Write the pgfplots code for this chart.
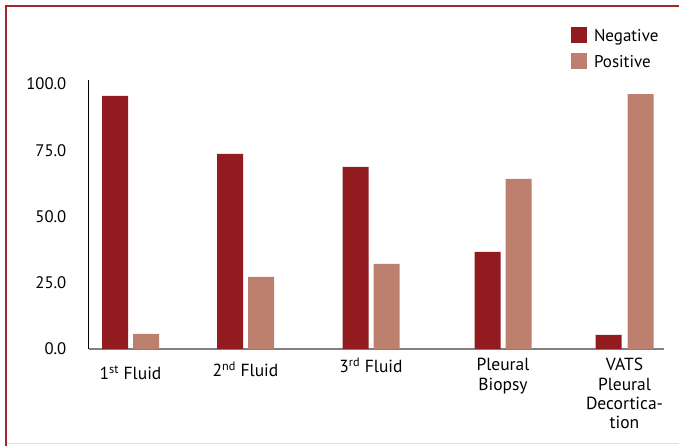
\documentclass[border=0pt]{standalone}
\usepackage{pgfplots}
\pgfplotsset{compat=1.18}
\usepackage{fontspec}
\setmainfont{PT Sans}
\definecolor{negc}{HTML}{921B20}
\definecolor{posc}{HTML}{BE806E}
\definecolor{framec}{HTML}{A3262A}
\newcommand{\ml}[1]{\begin{tabular}[t]{@{}c@{}}#1\end{tabular}}
\begin{document}
\begin{tikzpicture}[x=1pt,y=1pt]
\useasboundingbox (0,0) rectangle (679,446);
\draw[framec, line width=2.2pt] (6,0) -- (6,440) -- (679,440);
\draw[black!12, line width=1pt] (7,2) -- (679,2);
\begin{axis}[
  at={(88.5pt,97pt)}, anchor=south west,
  scale only axis, width=575.5pt, height=269pt,
  xmin=88.5, xmax=664, ymin=0, ymax=101.5,
  axis x line*=bottom, axis y line*=left,
  x axis line style={draw=black!50, line width=1.4pt, -},
  y axis line style={draw=black, line width=0.8pt, -},
  major tick length=0pt,
  ytick={0,25,50,75,100},
  /pgf/number format/assume math mode=true,
  yticklabel style={/pgf/number format/fixed, /pgf/number format/fixed zerofill, /pgf/number format/precision=1, font=\fontsize{16.7}{20}\selectfont, inner sep=0pt, xshift=-22pt},
  xtick={130.5,245.5,371,503,624.5},
  xticklabels={{\raisebox{-9pt}{1\textsuperscript{st} Fluid}},{\raisebox{-6pt}{2\textsuperscript{nd} Fluid}},{\raisebox{-2pt}{3\textsuperscript{rd} Fluid}},{\ml{Pleural\\Biopsy}},{\ml{VATS\\Pleural\\Decortica-\\tion}}},
  xticklabel style={anchor=base, font=\fontsize{17.5}{19.3}\selectfont, inner sep=0pt, yshift=-22pt},
  ybar, bar width=26pt, bar shift=0pt,
  legend style={at={(0.8384,1.197)}, anchor=north west, draw=none, fill=none, inner sep=0pt, outer sep=0pt, font=\fontsize{17}{19}\selectfont, row sep=6pt},
  legend cell align=left,
]
\addplot[fill=negc, draw=none, legend image code/.code={\fill[negc] (0pt,-6.7pt) rectangle (16pt,9.3pt); \path (21pt,-10.7pt);}] coordinates {(115,95.5) (230,73.6) (355.5,68.7) (487.5,36.6) (608.5,5.3)};
\addplot[fill=posc, draw=none, legend image code/.code={\fill[posc] (0pt,-6.7pt) rectangle (16pt,9.3pt); \path (21pt,-10.7pt);}] coordinates {(146,5.7) (261,27.2) (386.5,32.1) (518.5,64.2) (640.5,96.2)};
\legend{Negative,Positive}
\end{axis}
\end{tikzpicture}
\end{document}
